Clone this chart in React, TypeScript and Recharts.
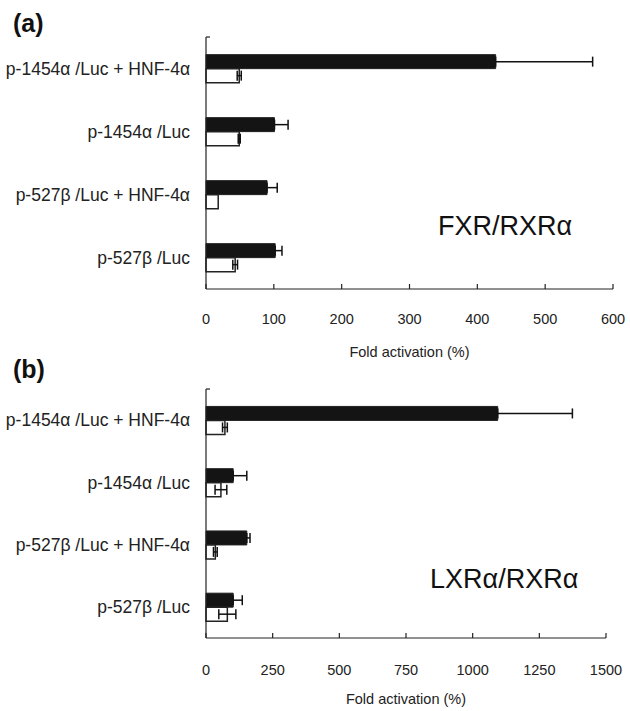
import React from 'react';
import { BarChart, Bar, XAxis, YAxis, ErrorBar, Label, Customized } from 'recharts';

const categories = ['p-1454α /Luc + HNF-4α', 'p-1454α /Luc', 'p-527β /Luc + HNF-4α', 'p-527β /Luc'];

const fxrBlack = [427, 101, 90, 102];
const fxrBlackErr = [143, 20, 15, 10];
const fxrWhite = [49, 49, 18, 43];
const fxrWhiteErr = [3, 1.5, 0, 3.5];
const fxrTicks = [0, 100, 200, 300, 400, 500, 600];

const lxrBlack = [1094, 102, 153, 102];
const lxrBlackErr = [280, 51, 12, 34];
const lxrWhite = [71, 56, 35, 80];
const lxrWhiteErr = [9, 22, 7, 32];
const lxrTicks = [0, 250, 500, 750, 1000, 1250, 1500];

const FONT = '"Liberation Sans", Arial, sans-serif';

// black bars only show the upper whisker (the lower half sits inside the filled bar)
const build = (black: number[], blackErr: number[], white: number[], whiteErr: number[]) =>
  categories.map((label, i) => ({
    label,
    black: black[i],
    blackErr: [0, blackErr[i]],
    white: white[i],
    whiteErr: whiteErr[i],
  }));

type PanelProps = {
  top: number;
  height: number;
  marginTop: number;
  marginRight: number;
  axisHeight: number;
  tickDy: number;
  titleDy: number;
  ticks: number[];
  data: ReturnType<typeof build>;
  tag: string;
  tagY: number;
  note: string;
  noteX: number;
  noteY: number;
};

const CategoryTick = (props: any) => {
  const { x, y, payload } = props;
  return (
    <text x={x} y={y} dy="0.35em" textAnchor="end" fontSize={17.5} fontFamily={FONT} fill="#222">
      {payload.value}
    </text>
  );
};

const Panel: React.FC<PanelProps> = (p) => {
  const ValueTick = (props: any) => {
    const { x, y, payload } = props;
    return (
      <g>
        <line x1={x} y1={y} x2={x} y2={y - 5} stroke="#222" strokeWidth={1.2} />
        <text x={x} y={y + p.tickDy} textAnchor="middle" fontSize={14.5} fontFamily={FONT} fill="#222">
          {payload.value}
        </text>
      </g>
    );
  };
  return (
    <div style={{ position: 'absolute', left: 0, top: p.top }}>
      <BarChart
        width={630}
        height={p.height}
        data={p.data}
        layout="vertical"
        margin={{ top: p.marginTop, right: p.marginRight, bottom: 0, left: 0 }}
        barCategoryGap="28%"
        barGap={0}
      >
        <XAxis
          type="number"
          domain={[0, p.ticks[p.ticks.length - 1]]}
          ticks={p.ticks}
          interval={0}
          height={p.axisHeight}
          tickSize={0}
          tickMargin={0}
          tickLine={false}
          axisLine={{ stroke: '#222', strokeWidth: 1.2 }}
          tick={<ValueTick />}
        >
          <Label
            content={(lp: any) => {
              const vb = lp.viewBox;
              return (
                <text
                  x={vb.x + vb.width / 2}
                  y={vb.y + p.titleDy}
                  textAnchor="middle"
                  fontSize={14.5}
                  fontFamily={FONT}
                  fill="#222"
                >
                  Fold activation (%)
                </text>
              );
            }}
          />
        </XAxis>
        <YAxis
          type="category"
          dataKey="label"
          width={206}
          tickSize={0}
          tickMargin={16}
          tickLine={false}
          axisLine={{ stroke: '#222', strokeWidth: 1.2 }}
          tick={<CategoryTick />}
        />
        <Bar dataKey="black" fill="#141414" stroke="#222" strokeWidth={1} isAnimationActive={false}>
          <ErrorBar dataKey="blackErr" direction="x" width={5} stroke="#111" strokeWidth={1.5} />
        </Bar>
        <Bar dataKey="white" fill="#ffffff" stroke="#222" strokeWidth={1.5} isAnimationActive={false}>
          <ErrorBar dataKey="whiteErr" direction="x" width={5} stroke="#111" strokeWidth={1.5} />
        </Bar>
        <Customized
          component={() => (
            <g>
              <line x1={206} y1={p.marginTop} x2={210} y2={p.marginTop} stroke="#222" strokeWidth={1.2} />
              <text x={13} y={p.tagY} fontSize={25} fontWeight="bold" fontFamily={FONT} fill="#111">
                {p.tag}
              </text>
              <text x={p.noteX} y={p.noteY} fontSize={27} fontFamily={FONT} fill="#111">
                {p.note}
              </text>
            </g>
          )}
        />
      </BarChart>
    </div>
  );
};

export default function App() {
  const fxrData = build(fxrBlack, fxrBlackErr, fxrWhite, fxrWhiteErr);
  const lxrData = build(lxrBlack, lxrBlackErr, lxrWhite, lxrWhiteErr);
  return (
    <div style={{ position: 'absolute', left: 0, top: 0, width: 630, height: 711, background: '#fff' }}>
      <Panel
        top={0}
        height={369}
        marginTop={37}
        marginRight={17}
        axisHeight={80}
        tickDy={35}
        titleDy={68}
        ticks={fxrTicks}
        data={fxrData}
        tag="(a)"
        tagY={32}
        note="FXR/RXRα"
        noteX={438}
        noteY={235}
      />
      <Panel
        top={350}
        height={361}
        marginTop={39}
        marginRight={24}
        axisHeight={73}
        tickDy={37}
        titleDy={66}
        ticks={lxrTicks}
        data={lxrData}
        tag="(b)"
        tagY={28}
        note="LXRα/RXRα"
        noteX={430}
        noteY={238}
      />
    </div>
  );
}
